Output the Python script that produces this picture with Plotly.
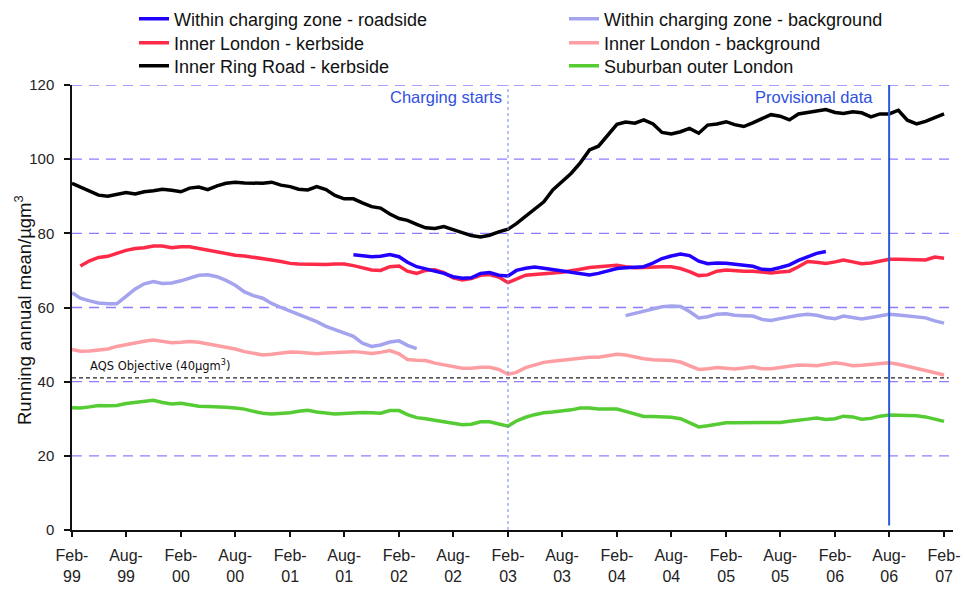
import pandas as pd
import plotly.graph_objects as go

# ---------------- data (monthly running annual means, µg/m3) ----------------
black_start = "1999-02-01"
inner_ring_road_kerbside = [
    93.5, 92.5, 91.3, 90.3, 90.0, 90.6, 91.0, 90.6, 91.2, 91.5,
    91.9, 91.6, 91.2, 92.2, 92.5, 91.8, 92.8, 93.5, 93.8, 93.6,
    93.5, 93.5, 93.8, 93.0, 92.6, 91.9, 91.7, 92.6, 91.8, 90.2,
    89.3, 89.3, 88.2, 87.2, 86.8, 85.2, 84.0, 83.5, 82.4, 81.5,
    81.3, 81.8, 81.0, 80.2, 79.4, 79.0, 79.5, 80.4, 81.1, 82.6,
    84.6, 86.3, 88.5, 91.7, 93.8, 96.2, 99.0, 102.5, 103.5, 106.3,
    109.4, 110.0, 109.7, 110.6, 109.5, 107.2, 106.8, 107.4, 108.3, 107.0,
    109.2, 109.5, 110.1, 109.3, 108.8, 109.8, 111.0, 112.0, 111.6, 110.6,
    112.2, 112.6, 113.2, 113.4, 112.6, 112.3, 112.8, 112.5, 111.4, 112.2,
    112.2, 113.2, 110.5, 109.5, 110.2, 111.3, 112.2,
]

red_start = "1999-03-01"
inner_london_kerbside = [
    71.2, 72.6, 73.5, 73.8, 74.6, 75.4, 75.9, 76.1, 76.6,
    76.6, 76.1, 76.4, 76.4, 75.9, 75.5, 75.0, 74.4, 74.1, 73.9,
    73.6, 73.2, 72.8, 72.4, 71.9, 71.7, 71.6, 71.5, 71.6, 71.7,
    71.7, 71.3, 70.7, 70.1, 70.0, 71.0, 71.2, 69.8, 69.2, 70.0,
    70.2, 69.4, 68.0, 67.4, 67.8, 68.7, 68.9, 68.2, 66.7, 67.6,
    68.7, 68.9, 69.0, 69.3, 69.5, 69.8, 70.3, 70.8, 71.0, 71.3,
    71.4, 71.0, 70.7, 70.8, 71.0, 71.0, 71.0, 70.5, 69.7, 68.6,
    68.8, 69.8, 70.1, 69.9, 69.8, 69.8, 69.5, 69.3, 69.6, 69.8,
    71.0, 72.4, 72.2, 71.9, 72.3, 72.8, 72.3, 71.8, 72.0, 72.6,
    73.0, 73.0, 73.0, 72.9, 72.8, 73.6, 73.3,
]

blue_start = "2001-09-01"
charging_zone_roadside = [
    74.2, 73.9, 73.7, 73.8, 74.3, 73.7, 72.2, 71.0, 70.4,
    69.9, 69.2, 68.3, 67.9, 68.0, 69.2, 69.4, 68.7, 68.5, 70.0,
    70.6, 70.9, 70.6, 70.2, 69.9, 69.5, 69.0, 68.8, 69.2, 69.9,
    70.5, 70.7, 70.9, 71.0, 72.0, 73.2, 73.9, 74.4, 74.0, 72.5,
    71.8, 72.0, 71.9, 71.7, 71.5, 71.1, 70.3, 70.2, 70.8, 71.5,
    72.7, 73.6, 74.6, 75.1,
]

lightblue_start1 = "1999-02-01"
charging_zone_background_1 = [
    64.0, 62.5, 61.8, 61.2, 61.0, 61.0, 63.0, 65.0, 66.4, 67.0,
    66.5, 66.6, 67.2, 68.0, 68.7, 68.8, 68.3, 67.3, 66.0, 64.2,
    63.2, 62.5, 61.1, 60.0, 59.0, 58.3, 57.3, 56.2, 54.9, 54.0,
    53.2, 52.2, 50.4, 49.5, 49.9, 50.7, 51.0, 49.8, 48.9,
]
lightblue_start2 = "2004-03-01"
charging_zone_background_2 = [
    57.8, 58.4, 59.0, 59.5, 60.2, 60.4, 60.3, 58.9, 57.2,
    57.5, 58.2, 58.3, 57.9, 57.8, 57.7, 56.8, 56.5, 57.0, 57.5,
    57.9, 58.2, 57.9, 57.3, 57.0, 57.7, 57.3, 56.9, 57.3, 57.8,
    58.2, 58.0, 57.8, 57.6, 57.2, 56.4, 55.8,
]

pink_start = "1999-02-01"
inner_london_background = [
    48.7, 48.2, 48.3, 48.6, 48.8, 49.5, 50.0, 50.6, 50.9, 51.2,
    50.8, 50.5, 50.6, 50.8, 50.6, 50.2, 49.8, 49.4, 48.8, 48.1,
    47.6, 47.2, 47.4, 47.7, 48.0, 47.9, 47.6, 47.5, 47.7, 47.9,
    48.0, 48.1, 47.9, 47.6, 47.9, 48.4, 47.5, 46.0, 45.8, 45.7,
    45.0, 44.5, 44.0, 43.6, 43.6, 43.9, 43.9, 43.3, 42.0, 42.5,
    43.8, 44.6, 45.2, 45.5, 45.8, 46.0, 46.4, 46.6, 46.6, 46.9,
    47.4, 47.2, 46.6, 46.2, 45.9, 45.8, 45.7, 45.3, 44.4, 43.3,
    43.5, 43.8, 43.6, 43.4, 43.7, 44.0, 43.5, 43.5, 43.8, 44.1,
    44.5, 44.4, 44.3, 44.7, 45.1, 44.8, 44.3, 44.4, 44.7, 45.0,
    45.1, 44.7, 44.2, 43.7, 43.0, 42.4, 41.8,
]

green_start = "1999-02-01"
suburban_outer_london = [
    33.0, 32.9, 33.2, 33.6, 33.5, 33.6, 34.1, 34.4, 34.7, 35.0,
    34.4, 34.0, 34.2, 33.8, 33.4, 33.3, 33.3, 33.1, 32.9, 32.6,
    32.0, 31.5, 31.3, 31.4, 31.6, 32.0, 32.3, 31.8, 31.5, 31.3,
    31.4, 31.6, 31.7, 31.6, 31.5, 32.2, 32.2, 31.1, 30.3, 30.0,
    29.7, 29.2, 28.8, 28.4, 28.5, 29.2, 29.2, 28.5, 28.0, 29.4,
    30.4, 31.1, 31.6, 31.8, 32.0, 32.4, 32.9, 32.9, 32.6, 32.7,
    32.6, 32.0, 31.2, 30.6, 30.6, 30.6, 30.4, 30.0, 29.0, 27.8,
    28.1, 28.6, 28.9, 28.9, 28.9, 28.8, 28.9, 28.8, 29.0, 29.3,
    29.7, 29.9, 30.2, 29.8, 30.0, 30.7, 30.5, 29.9, 30.1, 30.7,
    31.0, 31.0, 31.0, 30.8, 30.5, 30.0, 29.3,
]

aqs_objective = 41  # drawn level of the 40 µg/m3 objective line as in the picture

tick_dates = ["1999-02-01", "1999-08-01", "2000-02-01", "2000-08-01", "2001-02-01",
              "2001-08-01", "2002-02-01", "2002-08-01", "2003-02-01", "2003-08-01",
              "2004-02-01", "2004-08-01", "2005-02-01", "2005-08-01", "2006-02-01",
              "2006-08-01", "2007-02-01"]
tick_labels = ["Feb-<br>99", "Aug-<br>99", "Feb-<br>00", "Aug-<br>00", "Feb-<br>01",
               "Aug-<br>01", "Feb-<br>02", "Aug-<br>02", "Feb-<br>03", "Aug-<br>03",
               "Feb-<br>04", "Aug-<br>04", "Feb-<br>05", "Aug-<br>05", "Feb-<br>06",
               "Aug-<br>06", "Feb-<br>07"]
y_ticks = [0, 20, 40, 60, 80, 100, 120]


def months(start, n):
    return [d.strftime("%Y-%m-%d") for d in pd.date_range(start, periods=n, freq="MS")]


FONT = "Liberation Sans, Arial, sans-serif"
WIDE = "DejaVu Sans, Verdana, sans-serif"

fig = go.Figure()

lb_x = months(lightblue_start1, len(charging_zone_background_1)) + [None] + \
    months(lightblue_start2, len(charging_zone_background_2))
lb_y = charging_zone_background_1 + [None] + charging_zone_background_2

# (name, x, y, colour, legend id) -- legend ids place each entry in its own slot
series = [
    ("Within charging zone - background", lb_x, lb_y, "#a3a3ee", "legend4"),
    ("Inner London - background", months(pink_start, len(inner_london_background)),
     inner_london_background, "#ff9ea2", "legend5"),
    ("Suburban outer London", months(green_start, len(suburban_outer_london)),
     suburban_outer_london, "#55cc33", "legend6"),
    ("Inner Ring Road - kerbside", months(black_start, len(inner_ring_road_kerbside)),
     inner_ring_road_kerbside, "#000000", "legend3"),
    ("Inner London - kerbside", months(red_start, len(inner_london_kerbside)),
     inner_london_kerbside, "#ff2a48", "legend2"),
    ("Within charging zone - roadside", months(blue_start, len(charging_zone_roadside)),
     charging_zone_roadside, "#2200ff", "legend"),
]
for name, x, y, color, leg in series:
    fig.add_trace(go.Scatter(
        x=x, y=y, mode="lines", name=name, legend=leg,
        line=dict(color=color, width=3.5), connectgaps=False, hoverinfo="skip"))

# dashed purple gridlines
for v in y_ticks[1:]:
    fig.add_shape(type="line", xref="paper", x0=0, x1=1, yref="y", y0=v, y1=v,
                  line=dict(color="#8d7dff", width=1.4, dash="10px,7px"), layer="below")

# AQS objective dashed line
fig.add_shape(type="line", xref="paper", x0=0, x1=0.995, yref="y",
              y0=aqs_objective, y1=aqs_objective,
              line=dict(color="#222222", width=1.3, dash="4px,3px"))
fig.add_annotation(x=0.018, xref="paper", xanchor="left", y=aqs_objective, yref="y",
                   yanchor="bottom", yshift=3, showarrow=False,
                   text="AQS Objective (40µgm<sup>3</sup>)",
                   font=dict(family=WIDE, size=11.5, color="#111111"))

# charging starts (dotted) and provisional data (solid) vertical lines
fig.add_shape(type="line", x0="2003-02-01", x1="2003-02-01", yref="paper", y0=0, y1=1,
              line=dict(color="#6f86f0", width=1, dash="dot"))
fig.add_shape(type="line", x0="2006-08-01", x1="2006-08-01", yref="paper", y0=0.01, y1=1,
              line=dict(color="#2a5bd7", width=2))
fig.add_annotation(x="2003-02-01", xref="x", xanchor="right", xshift=-4, y=1, yref="paper",
                   yanchor="top", yshift=-1, showarrow=False, text="Charging starts",
                   font=dict(family=FONT, size=16.5, color="#3050e0"))
fig.add_annotation(x="2006-08-01", xref="x", xanchor="right", xshift=-14, y=1, yref="paper",
                   yanchor="top", yshift=-1, showarrow=False, text="Provisional data",
                   font=dict(family=FONT, size=16.5, color="#3050e0"))

# y-axis title as a rotated annotation
fig.add_annotation(x=(23 - 72) / 881, xref="paper", xanchor="center",
                   y=(530 - 310) / 445, yref="paper", yanchor="middle",
                   textangle=-90, showarrow=False,
                   text="Running annual mean/µgm<sup>3</sup>",
                   font=dict(family=FONT, size=18.5, color="#111111"))

fig.update_xaxes(
    type="date", range=["1999-02-01", "2007-03-03"],
    tickmode="array", tickvals=tick_dates, ticktext=tick_labels,
    ticks="outside", ticklen=5, tickwidth=1.5, tickcolor="#111111",
    ticklabelstandoff=5,
    showline=True, linecolor="#111111", linewidth=1.5, showgrid=False,
    zeroline=False, tickfont=dict(family=FONT, size=16, color="#222222"),
)
fig.update_yaxes(
    range=[0, 120], tickvals=y_ticks,
    ticks="outside", ticklen=6, tickwidth=1.5, tickcolor="#111111",
    ticklabelstandoff=7,
    showline=True, linecolor="#111111", linewidth=1.5,
    showgrid=False, zeroline=False,
    tickfont=dict(family=FONT, size=15, color="#222222"),
)

legend_common = dict(
    orientation="v", xanchor="left", yanchor="middle",
    bgcolor="rgba(0,0,0,0)", font=dict(family=FONT, size=18, color="#111111"),
    itemclick=False, itemdoubleclick=False,
)


def leg(px_x, px_y):
    return dict(x=(px_x - 72) / 881, y=1 + (85 - px_y) / 445, **legend_common)


fig.update_layout(
    width=966, height=590,
    margin=dict(l=72, r=13, t=85, b=60, autoexpand=False),
    plot_bgcolor="white", paper_bgcolor="white",
    showlegend=True,
    legend=leg(134, 19), legend2=leg(134, 43), legend3=leg(134, 66),
    legend4=leg(564, 19), legend5=leg(564, 43), legend6=leg(564, 66),
)

fig.write_html("out.html", config={"displayModeBar": False},
               post_script="document.body.style.margin='0';"
                           "document.body.style.overflow='hidden';")
